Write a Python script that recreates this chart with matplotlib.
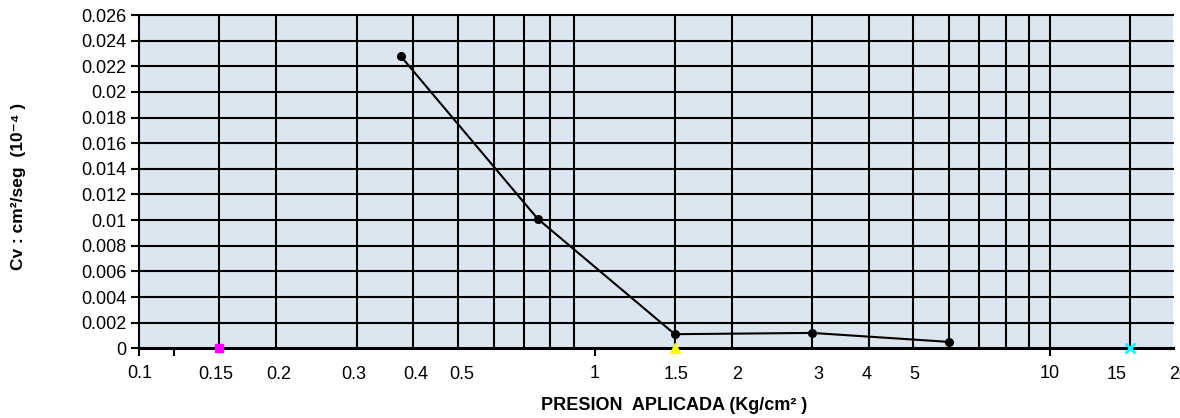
import matplotlib
matplotlib.use("Agg")
import matplotlib.pyplot as plt
from matplotlib.ticker import FixedLocator, NullFormatter, FixedFormatter

plt.rcParams['font.family'] = ['Liberation Sans', 'DejaVu Sans']

# Consolidation coefficient vs applied pressure
presion = [0.375, 0.75, 1.5, 3.0, 6.0]
cv = [0.0228, 0.0101, 0.0011, 0.0012, 0.0005]

# Reference marker series lying on the pressure axis
ref_x = [0.15, 1.5, 15]
ref_y = [0, 0, 0]

# Vertical guide lines of the log paper
grid_x = [0.15, 0.2, 0.3, 0.4, 0.5, 0.6, 0.7, 0.8, 0.9,
          1.5, 2, 3, 4, 5, 6, 7, 8, 9, 10, 15]

# Axis ticks
y_ticks = [0, 0.002, 0.004, 0.006, 0.008, 0.01, 0.012, 0.014,
           0.016, 0.018, 0.02, 0.022, 0.024, 0.026]
y_tick_labels = ['0', '0.002', '0.004', '0.006', '0.008', '0.01', '0.012',
                 '0.014', '0.016', '0.018', '0.02', '0.022', '0.024', '0.026']
x_major = [0.1, 1, 10]
x_major_labels = ['0.1', '1', '10']

# Extra scale labels written under the axis
scale_labels = ['0.15', '0.2', '0.3', '0.4', '0.5', '1.5', '2', '3', '4', '5', '15', '20']
scale_label_pos = [0.147, 0.202, 0.296, 0.405, 0.51, 1.51, 2.06, 3.1, 3.95, 5.05, 14.0, 19.2]

W, H = 1180, 418
fig = plt.figure(figsize=(W / 100, H / 100), dpi=100)
left, right, bottom, top = 139.3, 1172.5, 348.3, 15.0
ax = fig.add_axes([left / W, 1 - bottom / H, (right - left) / W, (bottom - top) / H])
ax.set_facecolor('#DCE6F1')
ax.set_xscale('log')
ax.set_xlim(0.1, 10 ** (-1 + (right - left) / 455.3))
ax.set_ylim(0, 0.026)

# grid
for gx in grid_x:
    ax.axvline(gx, color='black', lw=1.5, zorder=1)
for gy in y_ticks[1:]:
    ax.axhline(gy, color='black', lw=1.5, zorder=1, clip_on=False)

ax.spines['right'].set_visible(False)
ax.spines['top'].set_visible(False)
ax.spines['left'].set_linewidth(1.5)
ax.spines['bottom'].set_linewidth(2.2)
ax.spines['bottom'].set_zorder(3)

ax.yaxis.set_major_locator(FixedLocator(y_ticks))
ax.yaxis.set_major_formatter(FixedFormatter(y_tick_labels))
ax.tick_params(axis='y', length=6, width=1.5, pad=3, labelsize=13)

ax.xaxis.set_major_locator(FixedLocator(x_major))
ax.xaxis.set_major_formatter(FixedFormatter(x_major_labels))
ax.xaxis.set_minor_locator(FixedLocator([0.119]))
ax.xaxis.set_minor_formatter(NullFormatter())
ax.tick_params(axis='x', which='both', length=6, width=1.5, pad=6, labelsize=13)

trans = ax.get_xaxis_transform()
for lab, pos in zip(scale_labels, scale_label_pos):
    ax.text(pos, -0.08, lab, transform=trans, ha='center', va='center',
            fontsize=13, clip_on=False)

# data
ax.plot(presion, cv, color='black', lw=1.5, marker='o', markersize=5.5, zorder=4)
ax.plot(ref_x[0], ref_y[0], marker='s', color='#FF00FF', markersize=6,
        linestyle='none', zorder=5, clip_on=False)
ax.plot(ref_x[1], ref_y[1], marker='^', color='#FFFF00', markersize=7,
        linestyle='none', zorder=5, clip_on=False)
ax.plot(ref_x[2], ref_y[2], marker='x', color='#00FFFF', markersize=7,
        markeredgewidth=2, linestyle='none', zorder=5, clip_on=False)

fig.text(674 / W, 1 - 405 / H, 'PRESION  APLICADA (Kg/cm² )', ha='center', va='center',
         fontsize=13, fontweight='bold')
fig.text(19 / W, 1 - 186 / H, 'Cv : cm²/seg  (10⁻⁴ )', ha='center', va='center',
         rotation=90, fontsize=12.5, fontweight='bold')

fig.savefig('out.png', dpi=100)
